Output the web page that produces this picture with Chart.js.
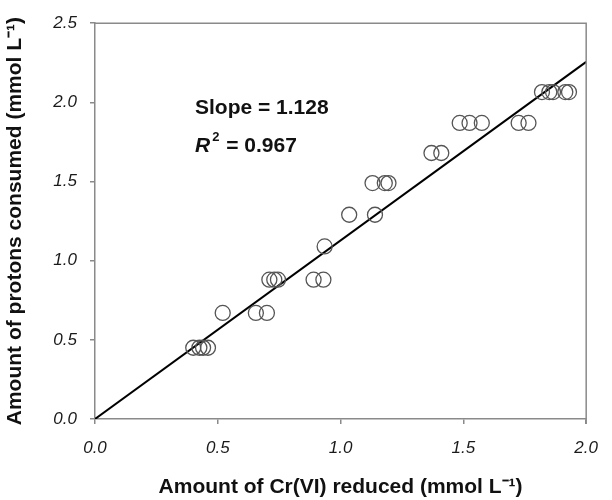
<!DOCTYPE html>
<html>
<head>
<meta charset="utf-8">
<script src="https://cdn.jsdelivr.net/npm/chart.js@4"></script>
<style>
  html, body { margin: 0; padding: 0; background: #fff; }
  #wrap { width: 612px; height: 500px; }
</style>
</head>
<body>
<div id="wrap"><canvas id="chart" width="612" height="500"></canvas></div>
<script>
// measured points (Cr(VI) reduced vs protons consumed)
const crReduced = [
  0.40, 0.425, 0.44, 0.46,
  0.52, 0.655, 0.70,
  0.71, 0.73, 0.745, 0.89, 0.93,
  0.935,
  1.035, 1.14,
  1.13, 1.18, 1.195,
  1.37, 1.41,
  1.485, 1.525, 1.575, 1.725, 1.765,
  1.82, 1.85, 1.865, 1.915, 1.93,
];
const protons = [
  0.45, 0.45, 0.45, 0.45,
  0.67, 0.67, 0.67,
  0.88, 0.88, 0.88, 0.88, 0.88,
  1.09,
  1.29, 1.29,
  1.49, 1.49, 1.49,
  1.68, 1.68,
  1.87, 1.87, 1.87, 1.87, 1.87,
  2.065, 2.065, 2.065, 2.065, 2.065,
];

// fitted line end points
const fitX = [0, 2.0];
const fitY = [0, 2.256];

const tickValues = [0, 0.5, 1.0, 1.5, 2.0, 2.5];
const slopeLabel = "Slope = 1.128";
const r2Value = " = 0.967";

const axisGray = "#8a8a8a";
const tickFont = { family: "'Liberation Sans', Arial, sans-serif", size: 17, style: "italic" };
const titleFont = { family: "'Liberation Sans', Arial, sans-serif", size: 21, weight: "bold" };

// box on top/right + the slope / R2 text
const boxAndText = {
  id: "boxAndText",
  afterDraw(chart) {
    const { ctx, chartArea: a } = chart;
    ctx.save();
    ctx.strokeStyle = axisGray;
    ctx.lineWidth = 1.5;
    ctx.beginPath();
    ctx.moveTo(a.left, a.top);
    ctx.lineTo(a.right, a.top);
    ctx.lineTo(a.right, a.bottom + 5);
    ctx.stroke();

    ctx.fillStyle = "#111";
    ctx.textBaseline = "middle";
    ctx.font = "bold 21px 'Liberation Sans', Arial, sans-serif";
    ctx.fillText(slopeLabel, 195, 108);

    ctx.font = "italic bold 21px 'Liberation Sans', Arial, sans-serif";
    ctx.fillText("R", 195, 146);
    let x = 195 + ctx.measureText("R").width + 2;
    ctx.font = "bold 13px 'Liberation Sans', Arial, sans-serif";
    ctx.fillText("2", x, 137);
    x += ctx.measureText("2").width + 1;
    ctx.font = "bold 21px 'Liberation Sans', Arial, sans-serif";
    ctx.fillText(r2Value, x, 146);
    ctx.restore();
  },
};

new Chart(document.getElementById("chart"), {
  type: "scatter",
  data: {
    datasets: [
      {
        label: "fit",
        type: "line",
        data: fitX.map((x, i) => ({ x, y: fitY[i] })),
        borderColor: "#000",
        borderWidth: 2,
        pointRadius: 0,
        fill: false,
        order: 2,
      },
      {
        label: "data",
        data: crReduced.map((x, i) => ({ x, y: protons[i] })),
        pointRadius: 7.5,
        pointBorderWidth: 1.3,
        pointBorderColor: "#555",
        pointBackgroundColor: "rgba(255,255,255,0)",
        showLine: false,
        order: 1,
      },
    ],
  },
  options: {
    responsive: false,
    animation: false,
    layout: { padding: { top: 19, right: 15, left: 0, bottom: 0 } },
    plugins: { legend: { display: false }, tooltip: { enabled: false } },
    scales: {
      x: {
        type: "linear",
        min: 0,
        max: 2.0,
        afterFit: (s) => { s.height = 81; },
        afterBuildTicks: (s) => { s.ticks = tickValues.filter((v) => v <= 2.0).map((v) => ({ value: v })); },
        ticks: {
          padding: 14,
          color: "#1a1a1a",
          font: tickFont,
          callback: (v) => Number(v).toFixed(1),
        },
        grid: { drawOnChartArea: false, drawTicks: true, tickLength: 5, color: axisGray, lineWidth: 1.5 },
        border: { display: true, color: axisGray, width: 1.5 },
        title: {
          display: true,
          text: "Amount of Cr(VI) reduced (mmol L⁻¹)",
          color: "#111",
          font: titleFont,
          padding: { top: 0, bottom: 0 },
        },
      },
      y: {
        type: "linear",
        min: 0,
        max: 2.5,
        afterFit: (s) => { s.width = 95; },
        afterBuildTicks: (s) => { s.ticks = tickValues.map((v) => ({ value: v })); },
        ticks: {
          padding: 13,
          color: "#1a1a1a",
          font: tickFont,
          callback: (v) => Number(v).toFixed(1),
        },
        grid: { drawOnChartArea: false, drawTicks: true, tickLength: 5, color: axisGray, lineWidth: 1.5 },
        border: { display: true, color: axisGray, width: 1.5 },
        title: {
          display: true,
          text: "Amount of protons consumed (mmol L⁻¹)",
          color: "#111",
          font: titleFont,
          padding: { top: 3, bottom: 0 },
        },
      },
    },
  },
  plugins: [boxAndText],
});
</script>
</body>
</html>
